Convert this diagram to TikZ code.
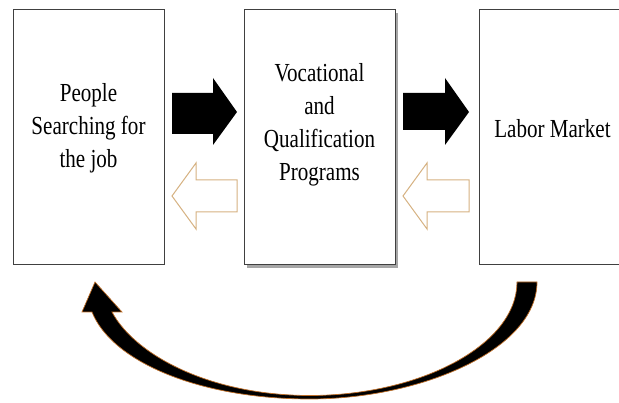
\documentclass[tikz,border=0pt]{standalone}
\usepackage{fontspec}
\newfontfamily\tnr[FakeStretch=0.81]{Liberation Serif}
\usetikzlibrary{shadows}
\definecolor{boxline}{RGB}{64,64,64}
\definecolor{tan}{RGB}{214,178,130}
\definecolor{curveedge}{RGB}{190,110,40}
\tikzset{
  box/.style={draw=boxline, line width=1pt, fill=white, inner sep=0pt},
  label text/.style={align=center, font=\tnr\fontsize{26}{33}\selectfont, inner sep=0pt},
  blockarrow/.style={fill=black, draw=none},
  hollowarrow/.style={draw=tan, line width=1pt, fill=white, line join=miter},
  curvearrow/.style={fill=black, draw=curveedge, line width=0.7pt, line join=miter}
}
\begin{document}
\begin{tikzpicture}[x=1pt,y=-1pt]
\useasboundingbox (0,0) rectangle (619,403);
% boxes
\node[box, minimum width=151pt, minimum height=255pt] (b1) at (88.5,137.5) {};
\node[box, minimum width=151pt, minimum height=255pt,
      drop shadow={shadow xshift=2.5pt, shadow yshift=-3pt, opacity=0.35, fill=black}] (b2) at (319.5,137.5) {};
\node[box, minimum width=160pt, minimum height=255pt] (b3) at (559,137.5) {};
% texts
\node[label text] (t1) at (88.5,128) {People\\Searching for\\the job};
\node[label text] (t2) at (319.5,124.5) {Vocational\\and\\Qualification\\Programs};
\node[label text] (t3) at (552.5,129) {Labor Market};
% black block arrows (b1 -> b2, b2 -> b3)
\fill[blockarrow] (172,93) -- (213,93) -- (213,78) -- (237,112) -- (213,145) -- (213,134) -- (172,134) -- cycle;
\fill[blockarrow] (403,93) -- (445,93) -- (445,78) -- (469,112) -- (445,145) -- (445,130) -- (403,130) -- cycle;
% hollow arrows (b2 -> b1, b3 -> b2)
\draw[hollowarrow] (237,180) -- (196,180) -- (196,163) -- (172,196) -- (196,229) -- (196,212) -- (237,212) -- cycle;
\draw[hollowarrow] (469,180) -- (427,180) -- (427,163) -- (403,196) -- (427,229) -- (427,212) -- (469,212) -- cycle;
% curved arrow (b3 -> b1)
\draw[curvearrow] (537,282)
  .. controls (537,350) and (420,399) .. (310,399)
  .. controls (200,399) and (112,362) .. (92,312)
  -- (82,312) -- (95,282) -- (122,312) -- (112,312)
  .. controls (135,355) and (210,395.5) .. (310,395.5)
  .. controls (420,395.5) and (517,345) .. (517,282) -- cycle;
\end{tikzpicture}
\end{document}
